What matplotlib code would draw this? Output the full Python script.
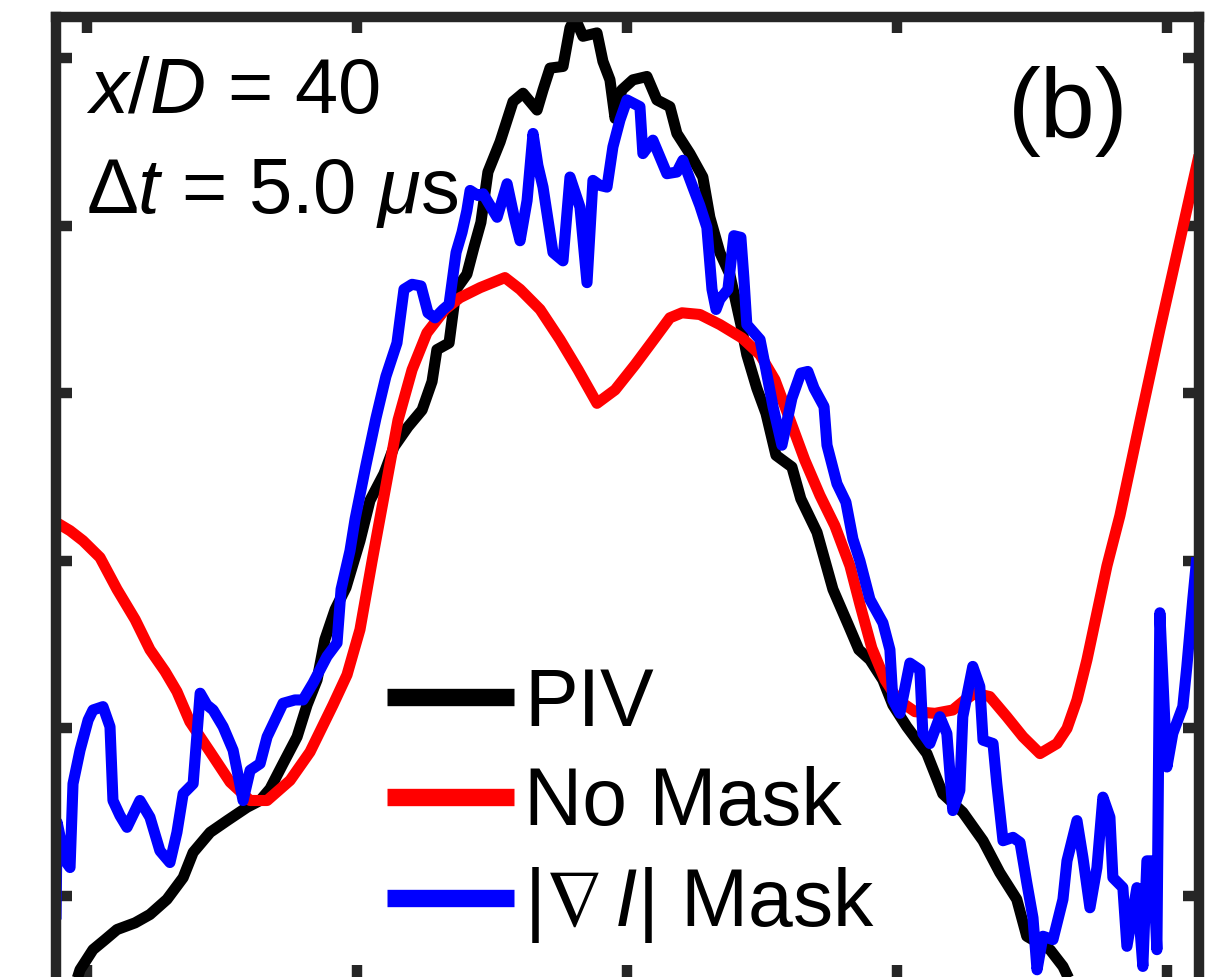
import matplotlib
matplotlib.use("Agg")
import matplotlib.pyplot as plt
from matplotlib.lines import Line2D

plt.rcParams['font.family'] = ['Liberation Sans', 'DejaVu Sans']
plt.rcParams['mathtext.fontset'] = 'custom'
plt.rcParams['mathtext.rm'] = 'Liberation Sans'
plt.rcParams['mathtext.it'] = 'Liberation Sans:italic'
plt.rcParams['mathtext.bf'] = 'Liberation Sans:bold'
plt.rcParams['mathtext.fallback'] = 'stixsans'

# PIV reference profile
piv_x = [-2.044, -2.026, -1.978, -1.933, -1.889, -1.822, -1.767, -1.704, -1.644, -1.607,
         -1.544, -1.481, -1.407, -1.359, -1.322, -1.274, -1.222, -1.185, -1.148, -1.119,
         -1.081, -1.041, -0.989, -0.952, -0.900, -0.863, -0.811, -0.759, -0.722, -0.704,
         -0.659, -0.633, -0.593, -0.567, -0.541, -0.515, -0.470, -0.422, -0.385, -0.333,
         -0.311, -0.285, -0.237, -0.211, -0.193, -0.163, -0.111, -0.089, -0.063, -0.044,
         -0.019, 0.022, 0.074, 0.111, 0.159, 0.185, 0.233, 0.281, 0.307, 0.344,
         0.381, 0.422, 0.444, 0.481, 0.515, 0.552, 0.611, 0.644, 0.704, 0.763,
         0.822, 0.859, 0.900, 0.948, 0.985, 1.037, 1.111, 1.170, 1.244, 1.319,
         1.381, 1.444, 1.481, 1.567, 1.615, 1.648]
piv_y = [-0.53, -0.44, -0.32, -0.26, -0.20, -0.16, -0.11, -0.02, 0.11, 0.26,
         0.38, 0.45, 0.53, 0.57, 0.64, 0.79, 0.95, 1.14, 1.29, 1.53,
         1.71, 1.84, 2.12, 2.36, 2.52, 2.68, 2.80, 2.90, 3.07, 3.26,
         3.30, 3.62, 3.71, 3.87, 4.02, 4.32, 4.50, 4.74, 4.79, 4.69,
         4.81, 4.94, 4.95, 5.18, 5.24, 5.13, 5.15, 4.98, 4.87, 4.64,
         4.81, 4.87, 4.89, 4.75, 4.71, 4.55, 4.43, 4.29, 4.05, 3.84,
         3.71, 3.41, 3.23, 3.03, 2.88, 2.63, 2.56, 2.37, 2.17, 1.83,
         1.61, 1.47, 1.41, 1.29, 1.14, 1.01, 0.85, 0.61, 0.50, 0.33,
         0.14, -0.02, -0.24, -0.32, -0.42, -0.53]

# Processing without a mask
nomask_x = [-2.115, -2.063, -2.015, -1.952, -1.889, -1.822, -1.767, -1.711, -1.667, -1.619,
            -1.544, -1.470, -1.396, -1.333, -1.248, -1.174, -1.089, -1.037, -0.989, -0.944,
            -0.896, -0.848, -0.796, -0.741, -0.674, -0.619, -0.544, -0.452, -0.396, -0.322,
            -0.248, -0.181, -0.111, -0.044, 0.030, 0.104, 0.159, 0.204, 0.270, 0.344,
            0.426, 0.493, 0.548, 0.604, 0.659, 0.715, 0.770, 0.826, 0.863, 0.907,
            0.956, 1.004, 1.067, 1.141, 1.207, 1.252, 1.289, 1.344, 1.407, 1.467,
            1.530, 1.593, 1.630, 1.667, 1.704, 1.741, 1.778, 1.826, 1.900, 1.974,
            2.048, 2.119]
nomask_y = [2.23, 2.18, 2.12, 2.02, 1.83, 1.65, 1.47, 1.34, 1.22, 1.04,
            0.86, 0.68, 0.57, 0.57, 0.69, 0.86, 1.14, 1.32, 1.59, 2.00,
            2.42, 2.84, 3.14, 3.36, 3.50, 3.57, 3.63, 3.69, 3.62, 3.50,
            3.32, 3.14, 2.94, 3.02, 3.17, 3.33, 3.45, 3.48, 3.47, 3.41,
            3.33, 3.23, 3.08, 2.84, 2.60, 2.39, 2.21, 1.97, 1.74, 1.48,
            1.29, 1.17, 1.10, 1.09, 1.11, 1.17, 1.21, 1.19, 1.07, 0.95,
            0.85, 0.91, 1.00, 1.17, 1.41, 1.69, 1.97, 2.27, 2.83, 3.38,
            3.91, 4.42]

# Processing with the intensity-gradient mask
gradmask_x = [-2.115, -2.111, -2.081, -2.063, -2.052, -2.026, -1.996, -1.978, -1.941, -1.915,
              -1.904, -1.878, -1.852, -1.804, -1.767, -1.730, -1.693, -1.667, -1.644, -1.607,
              -1.581, -1.556, -1.533, -1.496, -1.459, -1.422, -1.396, -1.359, -1.333, -1.274,
              -1.230, -1.200, -1.163, -1.111, -1.074, -1.059, -1.026, -1.007, -0.967, -0.930,
              -0.893, -0.852, -0.826, -0.796, -0.763, -0.737, -0.711, -0.681, -0.659, -0.633,
              -0.611, -0.593, -0.581, -0.552, -0.533, -0.507, -0.481, -0.444, -0.419, -0.396,
              -0.370, -0.348, -0.330, -0.311, -0.274, -0.237, -0.211, -0.174, -0.148, -0.126,
              -0.100, -0.074, -0.052, -0.026, 0.000, 0.048, 0.059, 0.096, 0.148, 0.185,
              0.207, 0.244, 0.270, 0.296, 0.315, 0.330, 0.344, 0.374, 0.396, 0.422,
              0.433, 0.444, 0.493, 0.515, 0.541, 0.574, 0.611, 0.644, 0.670, 0.693,
              0.730, 0.741, 0.778, 0.811, 0.837, 0.863, 0.900, 0.948, 0.974, 0.985,
              1.011, 1.048, 1.085, 1.096, 1.122, 1.159, 1.185, 1.207, 1.233, 1.244,
              1.281, 1.307, 1.319, 1.356, 1.370, 1.393, 1.430, 1.456, 1.481, 1.504,
              1.519, 1.541, 1.578, 1.615, 1.630, 1.667, 1.689, 1.715, 1.741, 1.763,
              1.789, 1.800, 1.837, 1.852, 1.889, 1.911, 1.926, 1.948, 1.963, 1.974,
              2.000, 2.022, 2.059, 2.074, 2.096, 2.111]
gradmask_y = [-0.14, 0.44, 0.21, 0.17, 0.67, 0.87, 1.05, 1.11, 1.13, 1.01,
              0.57, 0.48, 0.41, 0.57, 0.47, 0.27, 0.20, 0.38, 0.61, 0.67,
              1.21, 1.14, 1.11, 1.01, 0.87, 0.57, 0.75, 0.79, 0.95, 1.15,
              1.17, 1.17, 1.27, 1.43, 1.51, 1.83, 2.06, 2.25, 2.57, 2.85,
              3.10, 3.30, 3.62, 3.65, 3.64, 3.48, 3.45, 3.50, 3.53, 3.84,
              3.96, 4.09, 4.21, 4.18, 4.19, 4.12, 4.05, 4.25, 4.06, 3.91,
              4.15, 4.55, 4.36, 4.23, 3.84, 3.79, 4.29, 4.11, 3.66, 4.27,
              4.24, 4.23, 4.47, 4.63, 4.75, 4.71, 4.43, 4.51, 4.31, 4.32,
              4.39, 4.23, 4.12, 3.99, 3.62, 3.50, 3.56, 3.62, 3.94, 3.93,
              3.69, 3.41, 3.32, 3.14, 2.92, 2.69, 2.97, 3.12, 3.13, 3.03,
              2.92, 2.69, 2.46, 2.35, 2.13, 2.00, 1.77, 1.63, 1.47, 1.17,
              1.09, 1.39, 1.35, 0.97, 0.91, 1.07, 0.97, 0.51, 0.63, 1.07,
              1.37, 1.25, 0.93, 0.91, 0.67, 0.33, 0.35, 0.32, 0.08, -0.13,
              -0.44, -0.24, -0.26, -0.02, 0.21, 0.45, 0.23, -0.07, 0.17, 0.59,
              0.47, 0.11, 0.05, -0.30, 0.05, -0.42, 0.21, 0.21, -0.32, 1.69,
              0.77, 0.97, 1.13, 1.37, 1.77, 2.02]

series_labels = ['PIV', 'No Mask', r'$|\nabla\, I|$ Mask']
series_colors = ['#000000', '#ff0000', '#0000ff']

x_ticks = [-2, -1, 0, 1, 2]
y_ticks = [0, 1, 2, 3, 4, 5]

W, H = 1218, 977
fig = plt.figure(figsize=(W / 100, H / 100), dpi=100)
ax = fig.add_axes([56 / W, -4 / H, (1199 - 56) / W, (981 - 17) / H])

for xs, ys, c in zip([piv_x, nomask_x, gradmask_x],
                     [piv_y, nomask_y, gradmask_y], series_colors):
    ax.plot(xs, ys, color=c, lw=8.0, solid_joinstyle='round', solid_capstyle='butt')

ax.set_xlim(-2.115, 2.119)
ax.set_ylim(-0.507, 5.245)
ax.set_xticks(x_ticks)
ax.set_yticks(y_ticks)
ax.tick_params(direction='in', length=11.5, width=7.5, color='#262626',
               top=True, right=True, labelbottom=False, labelleft=False)
for sp in ax.spines.values():
    sp.set_linewidth(7.5)
    sp.set_color('#262626')

# annotations
fig.text(86 / W, (H - 113) / H, r'$x/D$ = 40', fontsize=56, va='baseline', ha='left')
fig.text(86 / W, (H - 213) / H, r'Δ$t$ = 5.0 $\mu$s', fontsize=56, va='baseline', ha='left')
fig.text(1008 / W, (H - 137) / H, '(b)', fontsize=71, va='baseline', ha='left')

legend_fs = 58
legend_em = legend_fs * 100 / 72
handles = [Line2D([], [], color=c, lw=12.5, solid_capstyle='butt') for c in series_colors]
leg = fig.legend(handles, series_labels, loc='center left',
                 bbox_to_anchor=(387 / W, (H - 806) / H),
                 frameon=False, fontsize=legend_fs, handlelength=127 / legend_em,
                 handletextpad=10 / legend_em,
                 labelspacing=0.29, borderpad=0, borderaxespad=0)

fig.savefig('out.png', dpi=100)
